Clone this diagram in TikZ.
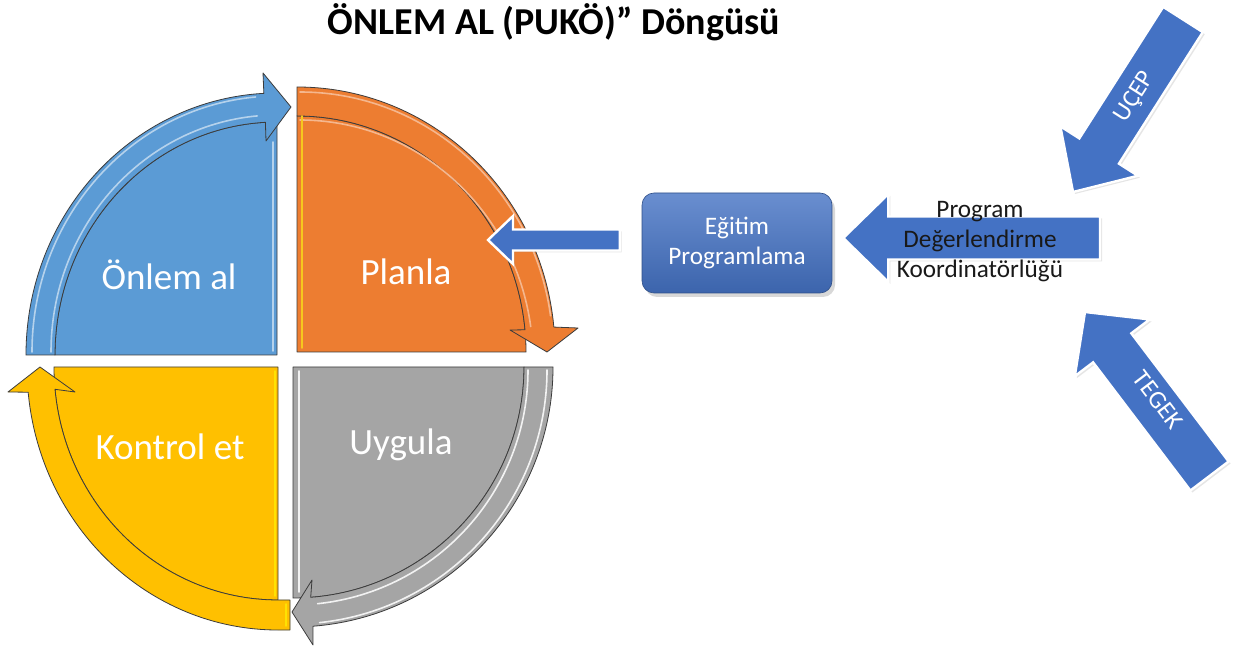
\documentclass[tikz,border=0pt]{standalone}
\usepackage{fontspec}
\setmainfont{Carlito}
\usetikzlibrary{calc,shadows}

\definecolor{qblue}{HTML}{5B9BD5}
\definecolor{qorange}{HTML}{ED7D31}
\definecolor{qgray}{HTML}{A5A5A5}
\definecolor{qyellow}{HTML}{FFC000}
\definecolor{arrblue}{HTML}{4472C4}
\definecolor{edgecol}{HTML}{3C3C3C}

% straight block arrow: #1 style, #2 tail, #3 tip, #4 half shaft width,
% #5 half head width, #6 head length
\newcommand\blockarrow[6]{%
  \coordinate (ba-base) at ($(#3)!#6!(#2)$);
  \draw[#1] ($(#2)!#4!90:(#3)$) -- ($(ba-base)!#4!90:(#3)$)
    -- ($(ba-base)!#5!90:(#3)$) -- (#3)
    -- ($(ba-base)!#5!-90:(#3)$) -- ($(ba-base)!#4!-90:(#3)$)
    -- ($(#2)!#4!-90:(#3)$) -- cycle;
}

\tikzset{
  quad/.style={fill=#1, draw=edgecol, line width=0.4pt, line join=round},
  shine/.style={draw=#1, line width=0.8pt, line cap=round},
  qtext/.style={text=white, font=\fontsize{18.5}{22}\selectfont},
  flow/.style={fill=arrblue, draw=white, line width=1.2pt, line join=miter,
    drop shadow={shadow xshift=1pt, shadow yshift=-1pt, opacity=0.2}},
  smalltext/.style={font=\fontsize{12.6}{15}\selectfont, align=center},
}

\begin{document}
\begin{tikzpicture}[x=0.5pt, y=-0.5pt]
\useasboundingbox (0,0) rectangle (1243,652);
\fill[white] (0,0) rectangle (1243,652);

% ---------- title ----------
\node[font=\bfseries\fontsize{19}{22}\selectfont] (title) at (554,22)
  {ÖNLEM AL (PUKÖ)” Döngüsü};

% ---------- cycle: four quadrants with curved arrows ----------
% Önlem al (top left)
\draw[quad=qblue] (277,355) -- (55,355)
  arc[start angle=180, end angle=270, x radius=222, y radius=233] -- cycle;
\draw[quad=qblue] (26,355)
  arc[start angle=180, end angle=267, x radius=251, y radius=262]
  -- (263,73) -- (291,107) -- (266,141) -- (265.4,122.3)
  arc[start angle=267, end angle=180, x radius=222, y radius=233] -- cycle;
\draw[shine=qblue!45!white] (32,352)
  arc[start angle=180, end angle=265, x radius=245, y radius=256];
\draw[shine=qblue!45!white] (51,352)
  arc[start angle=180, end angle=265, x radius=226, y radius=237];
\draw[shine=qblue!45!white] (273,351) -- (273,142);

% Planla (top right)
\draw[quad=qorange] (297,352) -- (297,116)
  arc[start angle=270, end angle=360, x radius=229, y radius=236] -- cycle;
\draw[quad=qorange] (297,87)
  arc[start angle=270, end angle=354.6, x radius=258, y radius=265]
  -- (578,328) -- (547,352) -- (510,330) -- (525,329.8)
  arc[start angle=354.6, end angle=270, x radius=229, y radius=236] -- cycle;
\draw[shine=qorange!55!white] (300,92)
  arc[start angle=270, end angle=352, x radius=253, y radius=260];
\draw[shine=qorange!55!white] (300,120)
  arc[start angle=270, end angle=352, x radius=233, y radius=240];
\draw[shine=yellow!60!qorange] (302,116) -- (302,348);

% Uygula (bottom right)
\draw[quad=qgray] (293,367) -- (524,367)
  arc[start angle=0, end angle=90, x radius=231, y radius=231] -- cycle;
\draw[quad=qgray] (553,367)
  arc[start angle=0, end angle=85.6, x radius=260, y radius=260]
  -- (313,645) -- (292,612) -- (312,580) -- (310.7,597.3)
  arc[start angle=85.6, end angle=0, x radius=231, y radius=231] -- cycle;
\draw[shine=white!85!qgray] (547,370)
  arc[start angle=0, end angle=84, x radius=254, y radius=254];
\draw[shine=white!85!qgray] (528,370)
  arc[start angle=0, end angle=84, x radius=235, y radius=235];
\draw[shine=white!85!qgray] (299,371) -- (299,592);

% Kontrol et (bottom left)
\draw[quad=qyellow] (278,367) -- (278,600)
  arc[start angle=90, end angle=180, x radius=224, y radius=233] -- cycle;
\draw[quad=qyellow] (290,630) -- (278,630)
  arc[start angle=90, end angle=174.5, x radius=251, y radius=263]
  -- (8,392) -- (40,367) -- (75,392) -- (55,389.3)
  arc[start angle=174.5, end angle=90, x radius=224, y radius=233]
  -- (290,600) -- cycle;
\draw[shine=yellow!70!qyellow] (286,604) -- (286,626);
\draw[shine=yellow!70!qyellow] (275,371) -- (275,596);

\node[qtext] (onlem)   at (169,275) {Önlem al};
\node[qtext] (planla)  at (406,272) {Planla};
\node[qtext] (kontrol) at (170,447) {Kontrol et};
\node[qtext] (uygula)  at (401,445) {Uygula};

% ---------- Eğitim Programlama ----------
\node[smalltext, text=white, minimum width=95pt, minimum height=50pt,
  rounded corners=6pt, top color=arrblue!80!white, bottom color=arrblue!88!black,
  draw=arrblue!70!black, line width=0.3pt,
  drop shadow={shadow xshift=1.5pt, shadow yshift=-2pt, opacity=0.3}]
  (egitim) at (737,243) {Eğitim\\Programlama};

% arrow into Planla
\coordinate (planIn)  at (488,240);
\coordinate (egOut)   at ($(egitim.west)+(-22,-3)$);
\blockarrow{flow}{egOut}{planIn}{5.25pt}{12pt}{12.5pt}

% ---------- incoming arrows ----------
\coordinate (pdkTail) at (1100,238);
\coordinate (pdkTip)  at ($(egitim.east)+(11,-5)$);
\blockarrow{flow}{pdkTail}{pdkTip}{10.75pt}{22pt}{22.5pt}
\node[smalltext, text=black!90] (pdk) at (980,242)
  {Program\\[0pt]Değerlendirme\\[0pt]Koordinatörlüğü};

\coordinate (ucepTail) at (1183,19.5);
\coordinate (ucepTip)  at (1073,192);
\blockarrow{flow}{ucepTail}{ucepTip}{11.75pt}{23pt}{24.3pt}
\node[smalltext, text=white, rotate=57.5] (ucep) at (1135,97) {UÇEP};

\coordinate (tegekTail) at (1209.5,476);
\coordinate (tegekTip)  at (1085,312);
\blockarrow{flow}{tegekTail}{tegekTip}{12pt}{23.5pt}{22.5pt}
\node[smalltext, text=white, rotate=-52.8] (tegek) at (1158,400) {TEGEK};
\end{tikzpicture}
\end{document}
